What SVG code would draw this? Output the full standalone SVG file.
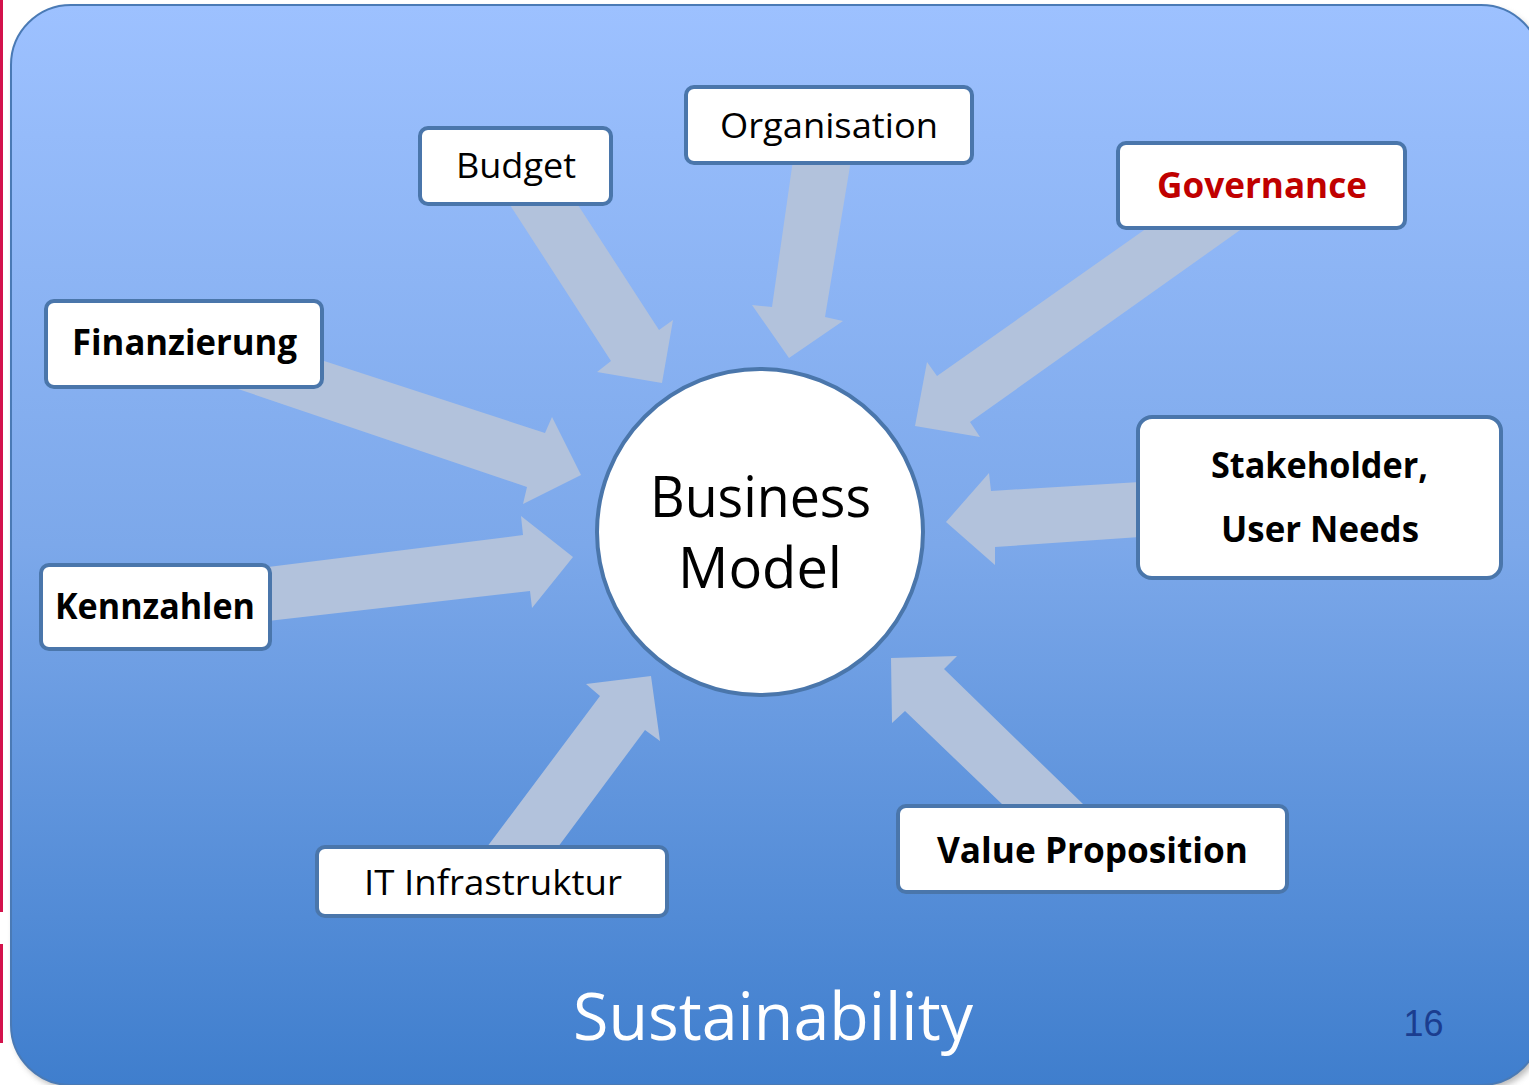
<svg xmlns="http://www.w3.org/2000/svg" width="1529" height="1085" viewBox="0 0 1529 1085">
<defs>
<linearGradient id="bg" x1="0" y1="0" x2="0" y2="1">
<stop offset="0" stop-color="#9dc1ff"/>
<stop offset="0.5" stop-color="#7ca8ea"/>
<stop offset="1" stop-color="#3f7ecd"/>
</linearGradient>
<filter id="sh" x="-5%" y="-5%" width="110%" height="110%">
<feGaussianBlur stdDeviation="3"/>
</filter>
</defs>
<style>
.arrow{fill:#b2c2dc;stroke:none}
.box{fill:#ffffff;stroke:#4a76ab;stroke-width:4}
.t{font-family:"Open Sans","Noto Sans","Liberation Sans",sans-serif;font-size:35px;fill:#000;text-anchor:middle}
.b{font-weight:bold;font-size:36px}
.big{font-size:57px}
.sus{font-size:66px;fill:#ffffff}
</style>
<rect x="0" y="0" width="1529" height="1085" fill="#ffffff"/>
<rect x="0" y="0" width="3" height="912" fill="#d3124c"/>
<rect x="0" y="944" width="3" height="99" fill="#d3124c"/>
<rect x="14" y="9" width="1530" height="1080" rx="60" fill="#888" opacity="0.6" filter="url(#sh)"/>
<rect x="11" y="5" width="1530" height="1080" rx="60" fill="url(#bg)" stroke="#4a7ab5" stroke-width="2"/>
<g id="connectors">
<polygon class="arrow" points="510,205 611,361 597,372 662,383 673,320 659,330 578,205"/>
<polygon class="arrow" points="793,160 772,307 752,305 789,358 843,321 825,317 851,160"/>
<polygon class="arrow" points="1147,228 937,376 927,362 915,426 980,437 970,422 1243,228"/>
<polygon class="arrow" points="1140,482 991,491 989,473 946,522 995,565 995,547 1140,537"/>
<polygon class="arrow" points="1084,805 944,669 957,656 891,658 892,723 905,711 1003,805"/>
<polygon class="arrow" points="487,847 600,696 586,684 651,676 660,741 645,730 558,847"/>
<polygon class="arrow" points="268,567 523,535 521,516 573,557 532,608 530,591 268,621"/>
<polygon class="arrow" points="318,359 545,433 552,417 581,475 523,504 527,487 235,388"/>
</g>
<g id="node-business-model">
<circle cx="760" cy="532" r="163" fill="#ffffff" stroke="#4a76ab" stroke-width="4"/>
<text class="t big" x="760.5" y="517" textLength="221" lengthAdjust="spacingAndGlyphs">Business</text>
<text class="t big" x="760" y="588" textLength="164" lengthAdjust="spacingAndGlyphs">Model</text>
</g>
<g id="node-budget">
<rect class="box" x="420" y="128" width="191" height="76" rx="8"/>
<text class="t" x="516" y="178" textLength="120" lengthAdjust="spacingAndGlyphs">Budget</text>
</g>
<g id="node-organisation">
<rect class="box" x="686" y="87" width="286" height="76" rx="8"/>
<text class="t" x="829" y="138" textLength="218" lengthAdjust="spacingAndGlyphs">Organisation</text>
</g>
<g id="node-governance">
<rect class="box" x="1118" y="143" width="287" height="85" rx="8"/>
<text class="t b" x="1262" y="198" style="fill:#c00000" textLength="210" lengthAdjust="spacingAndGlyphs">Governance</text>
</g>
<g id="node-stakeholder">
<rect class="box" x="1138" y="417" width="363" height="161" rx="14"/>
<text class="t b" x="1319.5" y="478" textLength="217" lengthAdjust="spacingAndGlyphs">Stakeholder,</text>
<text class="t b" x="1320" y="542" textLength="198" lengthAdjust="spacingAndGlyphs">User Needs</text>
</g>
<g id="node-finanzierung">
<rect class="box" x="46" y="301" width="276" height="86" rx="8"/>
<text class="t b" x="184.5" y="355" textLength="225" lengthAdjust="spacingAndGlyphs">Finanzierung</text>
</g>
<g id="node-kennzahlen">
<rect class="box" x="41" y="565" width="229" height="84" rx="8"/>
<text class="t b" x="155" y="619" textLength="200" lengthAdjust="spacingAndGlyphs">Kennzahlen</text>
</g>
<g id="node-it-infrastruktur">
<rect class="box" x="317" y="847" width="350" height="69" rx="8"/>
<text class="t" x="493" y="895" textLength="258" lengthAdjust="spacingAndGlyphs">IT Infrastruktur</text>
</g>
<g id="node-value-proposition">
<rect class="box" x="898" y="806" width="389" height="86" rx="8"/>
<text class="t b" x="1092.5" y="863" textLength="311" lengthAdjust="spacingAndGlyphs">Value Proposition</text>
</g>
<text class="t sus" x="773" y="1040" textLength="400" lengthAdjust="spacingAndGlyphs">Sustainability</text>
<text x="1423.5" y="1036" font-family="Liberation Sans, Arial, sans-serif" font-size="36" fill="#1b3d8f" text-anchor="middle">16</text>
</svg>
